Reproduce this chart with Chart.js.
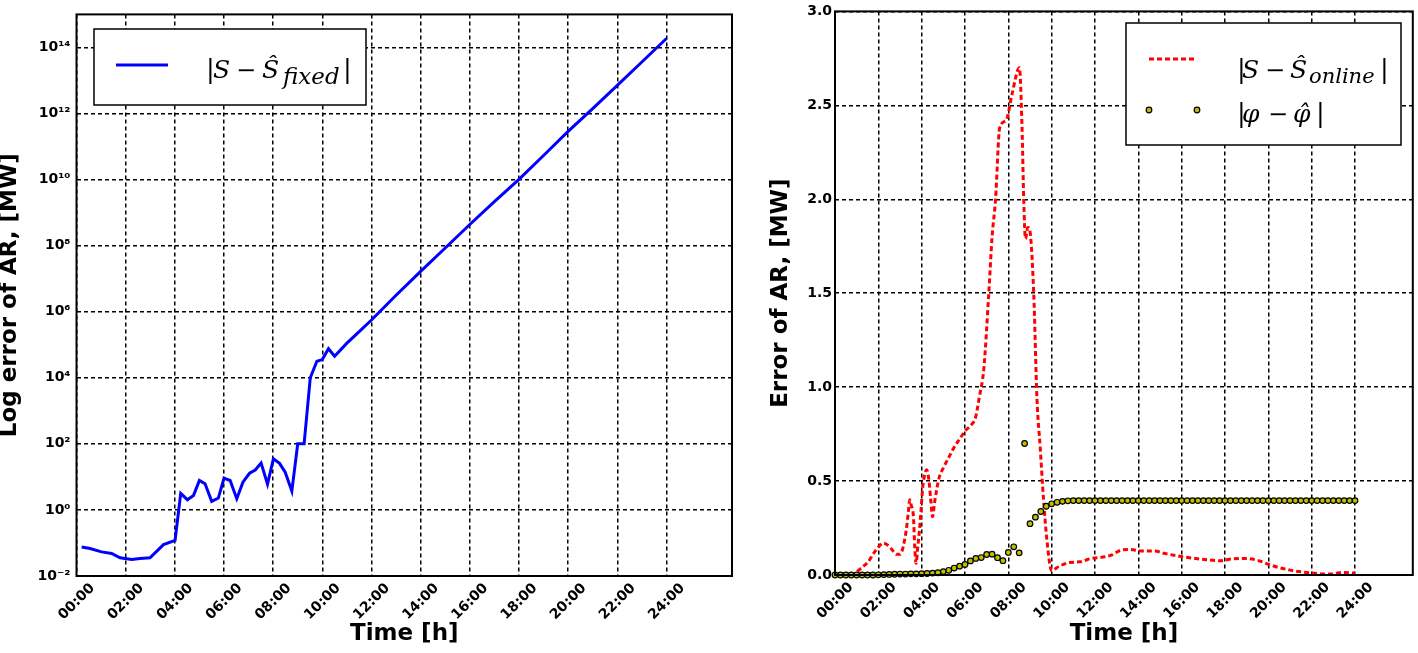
<!DOCTYPE html>
<html>
<head>
<meta charset="utf-8">
<script src="https://cdn.jsdelivr.net/npm/chart.js@4.4.0/dist/chart.umd.min.js"></script>
<style>
body{margin:0;background:#fff;width:1418px;height:653px;position:relative;overflow:hidden}
canvas{position:absolute;top:0}
#left{left:0}
#right{left:760px}
</style>
</head>
<body>
<canvas id="left" width="745" height="653"></canvas>
<canvas id="right" width="658" height="653"></canvas>
<script>
// tick positions (hours) and labels
var hourTicks = [0, 2, 4, 6, 8, 10, 12, 14, 16, 18, 20, 22, 24];
var logTicks = [1e-2, 1, 1e2, 1e4, 1e6, 1e8, 1e10, 1e12, 1e14];
var errorTicks = [0, 0.5, 1, 1.5, 2, 2.5, 3];

// left: |S - S_fixed| (log scale)
var fixedTimes = [0.21, 0.55, 1.02, 1.43, 1.77, 2.25, 2.58, 2.99, 3.54, 4.01, 4.24, 4.51, 4.76, 5.0, 5.23, 5.5, 5.77, 6.0, 6.25, 6.52, 6.77, 7.04, 7.27, 7.51, 7.77, 8.01, 8.26, 8.49, 8.76, 9.0, 9.26, 9.51, 9.78, 10.0, 10.25, 10.5, 11.0, 11.5, 12.0, 13, 14, 15, 16, 17, 18, 19, 20, 21, 22, 23, 24];
var fixedError = [0.0759, 0.0676, 0.0537, 0.0479, 0.0355, 0.0316, 0.0339, 0.0355, 0.0891, 0.120, 3.16, 2.04, 2.75, 7.76, 6.17, 1.82, 2.29, 9.12, 7.76, 2.19, 6.92, 12.9, 16.2, 26.3, 6.03, 35.5, 25.7, 13.8, 3.72, 100, 100, 1.0e4, 3.16e4, 3.55e4, 7.59e4, 4.47e4, 1.12e5, 2.51e5, 5.62e5, 3.16e6, 1.66e7, 8.51e7, 4.37e8, 2.14e9, 1.02e10, 5.37e10, 2.88e11, 1.41e12, 7.08e12, 3.63e13, 1.86e14];

// right: |S - S_online|
var onlineTimes = [0, 0.5, 0.9, 1.07, 1.3, 1.53, 1.75, 1.91, 2.05, 2.21, 2.35, 2.52, 2.7, 2.83, 3.0, 3.1, 3.2, 3.29, 3.38, 3.45, 3.52, 3.62, 3.68, 3.74, 3.82, 3.9, 3.98, 4.05, 4.15, 4.23, 4.33, 4.42, 4.5, 4.6, 4.7, 4.81, 5.0, 5.27, 5.5, 5.73, 6.03, 6.3, 6.49, 6.65, 6.87, 7.1, 7.25, 7.41, 7.6, 7.9, 8.17, 8.51, 8.63, 8.71, 8.79, 8.9, 8.98, 9.17, 9.32, 9.47, 9.62, 9.78, 10.0, 10.31, 10.84, 11.3, 11.76, 12.45, 12.75, 13.2, 13.6, 14.13, 14.74, 15.2, 16.04, 17.03, 17.8, 18.3, 18.87, 19.48, 20.09, 21.0, 21.92, 22.84, 23.45, 24.0];
var onlineError = [0, 0, 0, 0.023, 0.045, 0.07, 0.11, 0.136, 0.155, 0.17, 0.165, 0.15, 0.125, 0.11, 0.11, 0.13, 0.18, 0.24, 0.33, 0.40, 0.37, 0.31, 0.15, 0.062, 0.15, 0.24, 0.36, 0.47, 0.54, 0.56, 0.51, 0.40, 0.31, 0.39, 0.46, 0.52, 0.57, 0.63, 0.68, 0.72, 0.77, 0.80, 0.84, 0.94, 1.10, 1.505, 1.80, 2.0, 2.38, 2.42, 2.56, 2.70, 2.39, 2.0, 1.79, 1.85, 1.84, 1.505, 0.94, 0.68, 0.41, 0.185, 0.023, 0.044, 0.067, 0.07, 0.086, 0.097, 0.106, 0.132, 0.136, 0.128, 0.128, 0.115, 0.097, 0.083, 0.076, 0.085, 0.088, 0.079, 0.053, 0.026, 0.012, 0.005, 0.014, 0.01];

// right: |phi - phi_hat|, every 15 minutes
var phiTimes = [0, 0.25, 0.5, 0.75, 1, 1.25, 1.5, 1.75, 2, 2.25, 2.5, 2.75, 3, 3.25, 3.5, 3.75, 4, 4.25, 4.5, 4.75, 5, 5.25, 5.5, 5.75, 6, 6.25, 6.5, 6.75, 7, 7.25, 7.5, 7.75, 8, 8.25, 8.5, 8.75, 9, 9.25, 9.5, 9.75, 10, 10.25, 10.5, 10.75, 11, 11.25, 11.5, 11.75, 12, 12.25, 12.5, 12.75, 13, 13.25, 13.5, 13.75, 14, 14.25, 14.5, 14.75, 15, 15.25, 15.5, 15.75, 16, 16.25, 16.5, 16.75, 17, 17.25, 17.5, 17.75, 18, 18.25, 18.5, 18.75, 19, 19.25, 19.5, 19.75, 20, 20.25, 20.5, 20.75, 21, 21.25, 21.5, 21.75, 22, 22.25, 22.5, 22.75, 23, 23.25, 23.5, 23.75, 24];
var phiError = [0, 0, 0, 0, 0, 0, 0, 0, 0.001, 0.002, 0.003, 0.004, 0.005, 0.005, 0.006, 0.006, 0.007, 0.008, 0.010, 0.012, 0.018, 0.025, 0.037, 0.047, 0.056, 0.075, 0.088, 0.093, 0.109, 0.111, 0.092, 0.076, 0.120, 0.150, 0.118, 0.700, 0.273, 0.308, 0.338, 0.366, 0.379, 0.387, 0.392, 0.395, 0.396, 0.396, 0.396, 0.396, 0.396, 0.396, 0.396, 0.396, 0.396, 0.396, 0.396, 0.396, 0.396, 0.396, 0.396, 0.396, 0.396, 0.396, 0.396, 0.396, 0.396, 0.396, 0.396, 0.396, 0.396, 0.396, 0.396, 0.396, 0.396, 0.396, 0.396, 0.396, 0.396, 0.396, 0.396, 0.396, 0.396, 0.396, 0.396, 0.396, 0.396, 0.396, 0.396, 0.396, 0.396, 0.396, 0.396, 0.396, 0.396, 0.396, 0.396, 0.396, 0.396];

function pairs(xs, ys) {
    return xs.map(function (x, i) { return {x: x, y: ys[i]}; });
}

var tickFont = {family: 'DejaVu Sans', weight: 'bold', size: 14};
var titleFont = {family: 'DejaVu Sans', weight: 'bold', size: 23};
var sup = {'-': '\u207B', '0': '\u2070', '1': '\u00B9', '2': '\u00B2', '3': '\u00B3', '4': '\u2074', '5': '\u2075', '6': '\u2076', '7': '\u2077', '8': '\u2078', '9': '\u2079'};
var gridOpts = {color: '#000', lineWidth: 1.5, drawTicks: false};
var borderOpts = {display: false, dash: [4, 3]};

function hourLabel(v) {
    return (v < 10 ? '0' : '') + v + ':00';
}
function powLabel(v) {
    var e = String(Math.round(Math.log10(v)));
    return '10' + e.split('').map(function (c) { return sup[c]; }).join('');
}

function xAxis(h) {
    return {
        type: 'linear', min: 0, max: 1600 / 60,
        afterBuildTicks: function (s) { s.ticks = hourTicks.map(function (v) { return {value: v}; }); },
        afterFit: function (s) { s.height = h; },
        ticks: {autoSkip: false, minRotation: 45, maxRotation: 45, padding: 4, labelOffset: 16, font: tickFont, color: '#000', callback: hourLabel},
        grid: gridOpts,
        border: borderOpts,
        title: {display: true, text: 'Time [h]', color: '#000', font: titleFont, padding: {top: 0, bottom: 5}}
    };
}

// draw pieces of math-like text: [text, x, italic, size, dy]
function mathText(ctx, pieces, base) {
    ctx.fillStyle = '#000';
    ctx.textBaseline = 'alphabetic';
    ctx.textAlign = 'left';
    pieces.forEach(function (p) {
        ctx.font = (p[2] ? 'italic ' : '') + p[3] + 'px "DejaVu Serif"';
        ctx.fillText(p[0], p[1], base + (p[4] || 0));
    });
}

function frame(chart) {
    var a = chart.chartArea, ctx = chart.ctx;
    ctx.save();
    ctx.strokeStyle = '#000';
    ctx.lineWidth = 2;
    ctx.strokeRect(a.left, a.top, a.right - a.left, a.bottom - a.top);
    ctx.restore();
}

var leftDeco = {
    id: 'leftDeco',
    afterDraw: function (chart) {
        var ctx = chart.ctx;
        frame(chart);
        ctx.save();
        ctx.fillStyle = '#fff';
        ctx.fillRect(94, 29, 272, 76);
        ctx.strokeStyle = '#000';
        ctx.lineWidth = 1.5;
        ctx.strokeRect(94, 29, 272, 76);
        ctx.strokeStyle = '#0000ff';
        ctx.lineWidth = 3;
        ctx.beginPath();
        ctx.moveTo(116, 65);
        ctx.lineTo(168, 65);
        ctx.stroke();
        mathText(ctx, [
            ['|', 206, false, 26], ['S', 213, true, 25], ['\u2212', 236, false, 24],
            ['\u015C', 262, true, 25], ['fixed', 283, true, 23, 6], ['|', 343, false, 26]
        ], 78);
        ctx.restore();
    }
};

var rightDeco = {
    id: 'rightDeco',
    afterDraw: function (chart) {
        var ctx = chart.ctx;
        frame(chart);
        ctx.save();
        ctx.fillStyle = '#fff';
        ctx.fillRect(366, 23, 275, 122);
        ctx.strokeStyle = '#000';
        ctx.lineWidth = 1.5;
        ctx.strokeRect(366, 23, 275, 122);
        ctx.strokeStyle = '#ff0000';
        ctx.lineWidth = 3;
        ctx.setLineDash([5, 3]);
        ctx.beginPath();
        ctx.moveTo(389, 59);
        ctx.lineTo(437, 59);
        ctx.stroke();
        ctx.setLineDash([]);
        [389, 437].forEach(function (x) {
            ctx.beginPath();
            ctx.arc(x, 110, 2.8, 0, Math.PI * 2);
            ctx.fillStyle = '#bfbf00';
            ctx.fill();
            ctx.strokeStyle = '#000';
            ctx.lineWidth = 1.2;
            ctx.stroke();
        });
        mathText(ctx, [
            ['|', 477, false, 26], ['S', 482, true, 25], ['\u2212', 505, false, 24],
            ['\u015C', 530, true, 25], ['online', 549, true, 21, 5], ['|', 620, false, 26]
        ], 78);
        mathText(ctx, [
            ['|', 477, false, 26], ['\u03C6', 482, true, 25], ['\u2212', 508, false, 24],
            ['\u03C6\u0302', 533, true, 25], ['|', 556, false, 26]
        ], 122);
        ctx.restore();
    }
};

new Chart(document.getElementById('left').getContext('2d'), {
    type: 'line',
    data: {
        datasets: [{
            data: pairs(fixedTimes, fixedError),
            borderColor: '#0000ff',
            borderWidth: 3,
            pointRadius: 0,
            tension: 0,
            fill: false
        }]
    },
    options: {
        responsive: false,
        animation: false,
        devicePixelRatio: 1,
        layout: {padding: {top: 12, right: 13, left: 0, bottom: 0}},
        plugins: {legend: {display: false}, tooltip: {enabled: false}},
        scales: {
            x: xAxis(77),
            y: {
                type: 'logarithmic', min: 1e-2, max: 1e15,
                afterBuildTicks: function (s) { s.ticks = logTicks.map(function (v) { return {value: v}; }); },
                afterFit: function (s) { s.width = 76.5; },
                ticks: {padding: 6, font: tickFont, color: '#000', callback: powLabel},
                grid: gridOpts,
                border: borderOpts,
                title: {display: true, text: 'Log error of AR, [MW]', color: '#000', font: titleFont, padding: {top: -4, bottom: 0}}
            }
        }
    },
    plugins: [leftDeco]
});

new Chart(document.getElementById('right').getContext('2d'), {
    type: 'line',
    data: {
        datasets: [{
            data: pairs(phiTimes, phiError),
            showLine: false,
            pointRadius: 2.8,
            pointBackgroundColor: '#bfbf00',
            pointBorderColor: '#000',
            pointBorderWidth: 1.2,
            clip: false
        }, {
            data: pairs(onlineTimes, onlineError),
            borderColor: '#ff0000',
            borderWidth: 3,
            borderDash: [5, 3],
            pointRadius: 0,
            cubicInterpolationMode: 'monotone',
            fill: false
        }]
    },
    options: {
        responsive: false,
        animation: false,
        devicePixelRatio: 1,
        layout: {padding: {top: 7, right: 1.3, left: 0, bottom: 0}},
        plugins: {legend: {display: false}, tooltip: {enabled: false}},
        scales: {
            x: xAxis(78),
            y: {
                type: 'linear', min: 0, max: 3,
                afterBuildTicks: function (s) { s.ticks = errorTicks.map(function (v) { return {value: v}; }); },
                afterFit: function (s) { s.width = 75; },
                ticks: {padding: 3, font: tickFont, color: '#000', callback: function (v) { return v.toFixed(1); }},
                grid: gridOpts,
                border: borderOpts,
                title: {display: true, text: 'Error of AR, [MW]', color: '#000', font: titleFont, padding: {top: 7, bottom: 0}}
            }
        }
    },
    plugins: [rightDeco]
});
</script>
</body>
</html>
